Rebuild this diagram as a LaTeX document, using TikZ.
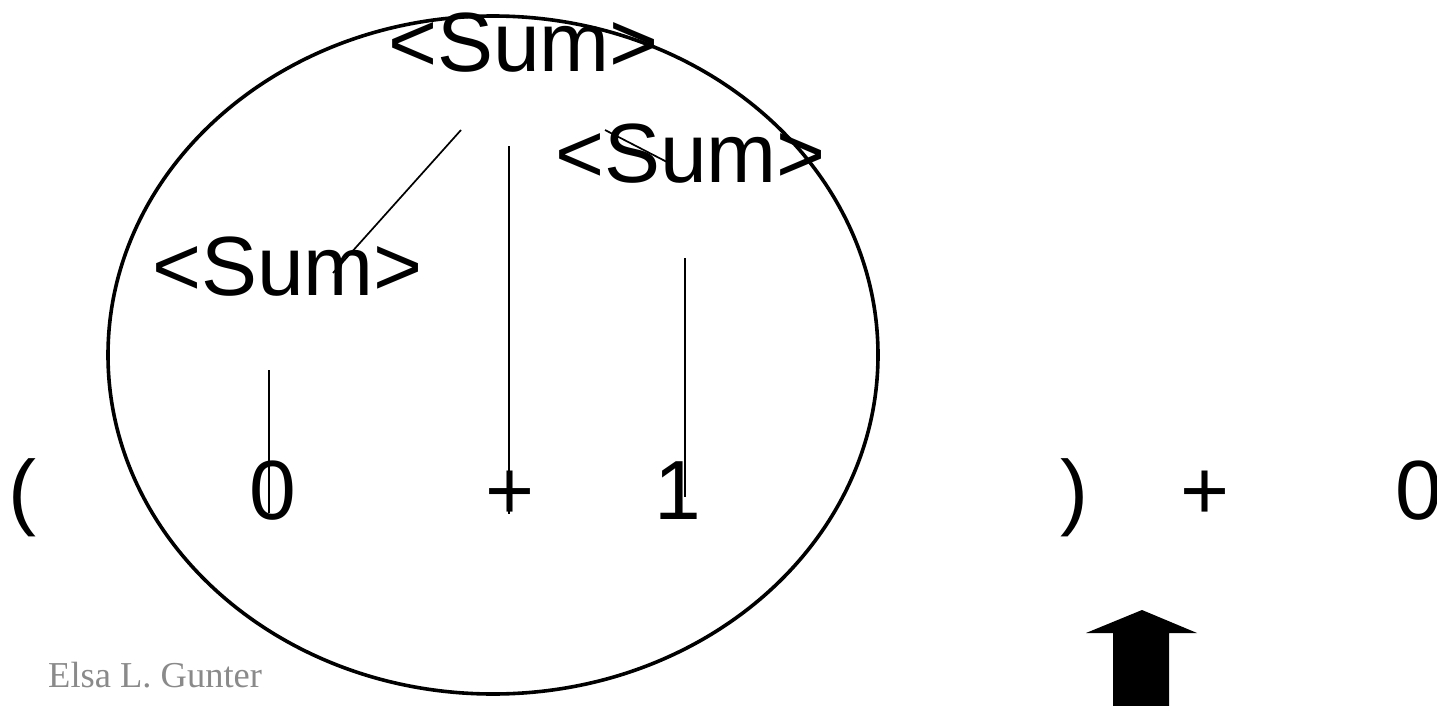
\documentclass[tikz,border=0pt]{standalone}
\usepackage{fontspec}
\setmainfont{Liberation Sans}
\newfontfamily\serifname{Liberation Serif}
\definecolor{footgray}{HTML}{8A8A8A}
\begin{document}
\begin{tikzpicture}[x=1pt,y=-1pt,
  sym/.style={inner sep=0pt, anchor=base, font=\fontsize{84}{100}\selectfont},
  thinline/.style={line width=1.7pt},
  ring/.style={line width=3.6pt}]
\useasboundingbox (0,0) rectangle (1437,706);
% texts
\node[sym] (sumtop) at (523.5,72) {<Sum>};
\node[sym] (sumright) at (690.5,182) {<Sum>};
\node[sym] (sumleft) at (287.5,295) {<Sum>};
\node[sym] (lpar) at (22,519) {(};
\node[sym] (zero) at (272.5,519) {0};
\node[sym] (plus) at (510,519) {+};
\node[sym] (one) at (677.5,519) {1};
\node[sym] (rpar) at (1074.5,519) {)};
\node[sym] (plustwo) at (1205,519) {+};
\node[sym] (zerotwo) at (1418.5,519) {0};
\node[inner sep=0pt, anchor=base west, text=footgray, font=\serifname\fontsize{36.5}{40}\selectfont] (author) at (48,687) {Elsa L. Gunter};
% ellipse
\draw[ring] (493,355) ellipse [x radius=385, y radius=339];
% connector ends
\coordinate (a1) at (461,130); \coordinate (a2) at (333,273);
\coordinate (b1) at (509,146); \coordinate (b2) at (509,514);
\coordinate (c1) at (605,130); \coordinate (c2) at (667,162);
\coordinate (d1) at (269,370); \coordinate (d2) at (269,513);
\coordinate (e1) at (685,258); \coordinate (e2) at (685,497);
\draw[thinline] (a1) -- (a2);
\draw[thinline] (b1) -- (b2);
\draw[thinline] (c1) -- (c2);
\draw[thinline] (d1) -- (d2);
\draw[thinline] (e1) -- (e2);
% block arrow
\fill[black] (1142,610) -- (1197,633) -- (1169,633) -- (1169,706) -- (1113,706) -- (1113,633) -- (1086,633) -- cycle;
\end{tikzpicture}
\end{document}
